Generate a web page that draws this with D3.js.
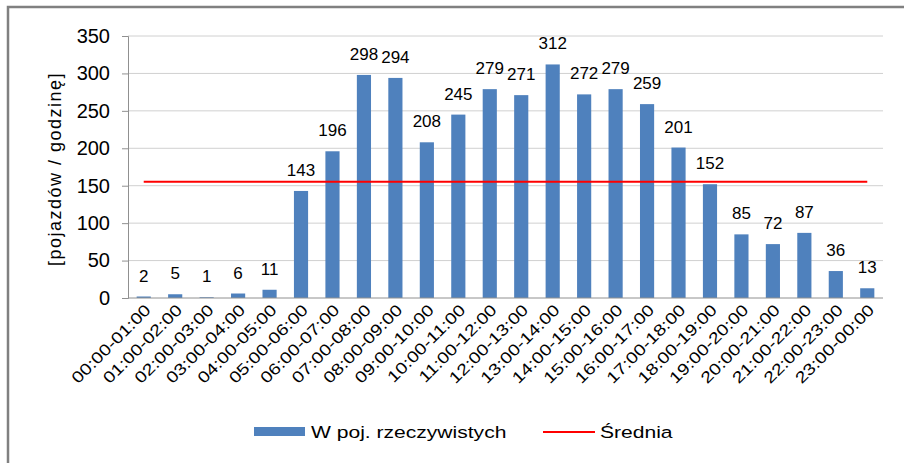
<!DOCTYPE html>
<html>
<head>
<meta charset="utf-8">
<script src="https://cdn.jsdelivr.net/npm/d3@7"></script>
<style>
  body { margin: 0; background: #fff; }
  text { font-family: 'Liberation Sans', Arial, sans-serif; fill: #000; }
</style>
</head>
<body>
<script>
var hours = ['00:00-01:00', '01:00-02:00', '02:00-03:00', '03:00-04:00', '04:00-05:00', '05:00-06:00',
  '06:00-07:00', '07:00-08:00', '08:00-09:00', '09:00-10:00', '10:00-11:00', '11:00-12:00',
  '12:00-13:00', '13:00-14:00', '14:00-15:00', '15:00-16:00', '16:00-17:00', '17:00-18:00',
  '18:00-19:00', '19:00-20:00', '20:00-21:00', '21:00-22:00', '22:00-23:00', '23:00-00:00'];
var vehicles = [2, 5, 1, 6, 11, 143, 196, 298, 294, 208, 245, 279, 271, 312, 272, 279, 259, 201, 152, 85, 72, 87, 36, 13];
var yTicks = [0, 50, 100, 150, 200, 250, 300, 350];
var seriesNames = ['W poj. rzeczywistych', 'Średnia'];

var width = 904,
  height = 463,
  plotLeft = 128,
  plotRight = 883,
  plotTop = 36,
  plotBottom = 298;

var mean = d3.mean(vehicles);

var svg = d3.select('body').append('svg').attr('width', width).attr('height', height);

// outer frame, cut off on the right and bottom like the screenshot
svg.append('rect')
  .attr('x', 8)
  .attr('y', 7)
  .attr('width', 920)
  .attr('height', 480)
  .style('fill', 'none')
  .style('stroke', '#808080')
  .style('stroke-width', 2.5);

var x = d3.scaleBand().domain(hours).range([plotLeft, plotRight]).paddingInner(0.55).paddingOuter(0.275);
var y = d3.scaleLinear().domain([0, 350]).range([plotBottom, plotTop]);

// gridlines
svg.append('g')
  .selectAll('line')
  .data(yTicks.slice(1))
  .enter()
  .append('line')
  .attr('x1', plotLeft)
  .attr('x2', plotRight)
  .attr('y1', function(d) { return y(d); })
  .attr('y2', function(d) { return y(d); })
  .style('stroke', '#d0d0d0')
  .style('stroke-width', 1);

var yAxis = svg.append('g')
  .attr('transform', 'translate(' + plotLeft + ',0)')
  .call(d3.axisLeft(y).tickValues(yTicks).tickSize(6).tickPadding(12));
yAxis.select('.domain').style('stroke', '#909090');
yAxis.selectAll('.tick line').style('stroke', '#909090');
yAxis.selectAll('.tick text').style('font-size', '20px').style('fill', '#000').attr('font-family', null);

svg.append('text')
  .attr('transform', 'translate(61,' + ((plotTop + plotBottom) / 2 + 2) + ')rotate(-90)')
  .attr('text-anchor', 'middle')
  .style('font-size', '18px')
  .style('letter-spacing', '1.5px')
  .text('[pojazdów / godzinę]');

// bars
svg.append('g')
  .selectAll('rect')
  .data(vehicles)
  .enter()
  .append('rect')
  .attr('x', function(d, i) { return x(hours[i]); })
  .attr('y', function(d) { return y(d); })
  .attr('width', x.bandwidth())
  .attr('height', function(d) { return y(0) - y(d); })
  .style('fill', '#4f81bd');

// value labels
svg.append('g')
  .selectAll('text')
  .data(vehicles)
  .enter()
  .append('text')
  .attr('x', function(d, i) { return x(hours[i]) + x.bandwidth() / 2; })
  .attr('y', function(d) { return y(d) - 15; })
  .attr('text-anchor', 'middle')
  .style('font-size', '17px')
  .text(function(d) { return d; });

// x axis line
svg.append('line')
  .attr('x1', plotLeft)
  .attr('x2', plotRight)
  .attr('y1', y(0))
  .attr('y2', y(0))
  .style('stroke', '#909090');

// x labels, stretched along the baseline like the wide original font
svg.append('g')
  .selectAll('text')
  .data(hours)
  .enter()
  .append('text')
  .attr('transform', function(d) {
    return 'translate(' + (x(d) + x.bandwidth() / 2 + 8) + ',311)rotate(-45)scale(1.22,1)';
  })
  .attr('text-anchor', 'end')
  .style('font-size', '16px')
  .text(function(d) { return d; });

// mean line
var line = d3.line()
  .x(function(d) { return x(d) + x.bandwidth() / 2; })
  .y(function() { return y(mean); });
svg.append('path')
  .attr('d', line(hours))
  .style('fill', 'none')
  .style('stroke', '#ff0000')
  .style('stroke-width', 2);

// legend
var legend = svg.append('g').attr('class', 'legend');
legend.append('rect')
  .attr('x', 254)
  .attr('y', 427)
  .attr('width', 51)
  .attr('height', 9)
  .style('fill', '#4f81bd');
legend.append('text')
  .attr('transform', 'translate(311,438)scale(1.24,1)')
  .style('font-size', '17px')
  .text(seriesNames[0]);
legend.append('line')
  .attr('x1', 543)
  .attr('x2', 595)
  .attr('y1', 432)
  .attr('y2', 432)
  .style('stroke', '#ff0000')
  .style('stroke-width', 2);
legend.append('text')
  .attr('transform', 'translate(600,438)scale(1.24,1)')
  .style('font-size', '17px')
  .text(seriesNames[1]);
</script>
</body>
</html>
